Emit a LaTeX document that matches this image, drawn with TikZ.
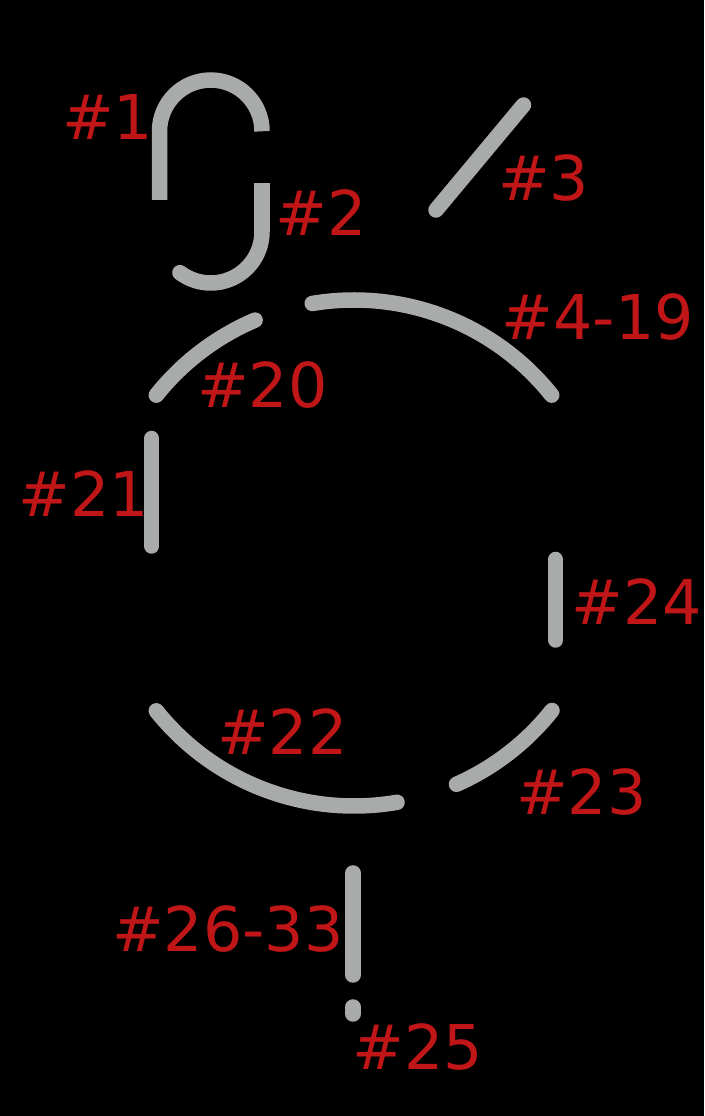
\documentclass[tikz,border=0pt]{standalone}
\usepackage{fontspec}
\setmainfont{DejaVu Sans}
\definecolor{strokegray}{RGB}{169,171,170}
\definecolor{labelred}{RGB}{192,22,24}
\tikzset{
  seg/.style={draw=strokegray, line width=15.5pt, line cap=round},
  flatseg/.style={draw=strokegray, line width=15.5pt, line cap=butt},
  lbl/.style={text=labelred, font=\fontsize{61.8}{62}\selectfont, inner sep=0pt, anchor=base west},
}
\begin{document}
\begin{tikzpicture}[x=1pt,y=1pt]
\fill[black] (0,0) rectangle (704,1116);
\useasboundingbox (0,0) rectangle (704,1116);
\coordinate (c) at (354,563);
% #1
\draw[flatseg] (159.5,916) -- (159.5,984.7) arc[start angle=180, end angle=0, radius=51.25pt];
% #2
\draw[flatseg] (262,933) -- (262,884.25);
\draw[seg] (262,884.25) arc[start angle=0, end angle=-127, radius=51.25pt];
% #3
\draw[seg] (523.5,1011) -- (436,906);
% circle arcs
\draw[seg] ([shift={(99.5:253pt)}]c) arc[start angle=99.5, end angle=38.6, radius=253pt];
\draw[seg] ([shift={(141.4:253pt)}]c) arc[start angle=141.4, end angle=113, radius=253pt];
\draw[seg] ([shift={(218.6:253pt)}]c) arc[start angle=218.6, end angle=279.8, radius=253pt];
\draw[seg] ([shift={(293.9:253pt)}]c) arc[start angle=293.9, end angle=321.5, radius=253pt];
% straight segments
\draw[seg] (151.7,677.5) -- (151.7,570);
\draw[seg] (555.7,556.5) -- (555.7,476);
\draw[seg] (353,243) -- (353,141);
\draw[seg] (353,109) -- (353,102);
% labels
\node[lbl] (l1) at (62,976) {\#1};
\node[lbl] (l2) at (275.5,880) {\#2};
\node[lbl] (l3) at (498,915) {\#3};
\node[lbl] (l4) at (501.5,776) {\#4-19};
\node[lbl] (l20) at (197,708) {\#20};
\node[lbl] (l21) at (18.5,599.3) {\#21};
\node[lbl] (l24) at (571.5,491) {\#24};
\node[lbl] (l22) at (217,361) {\#22};
\node[lbl] (l23) at (516,301) {\#23};
\node[lbl] (l26) at (112,164.3) {\#26-33};
\node[lbl] (l25) at (352.5,46) {\#25};
\end{tikzpicture}
\end{document}
